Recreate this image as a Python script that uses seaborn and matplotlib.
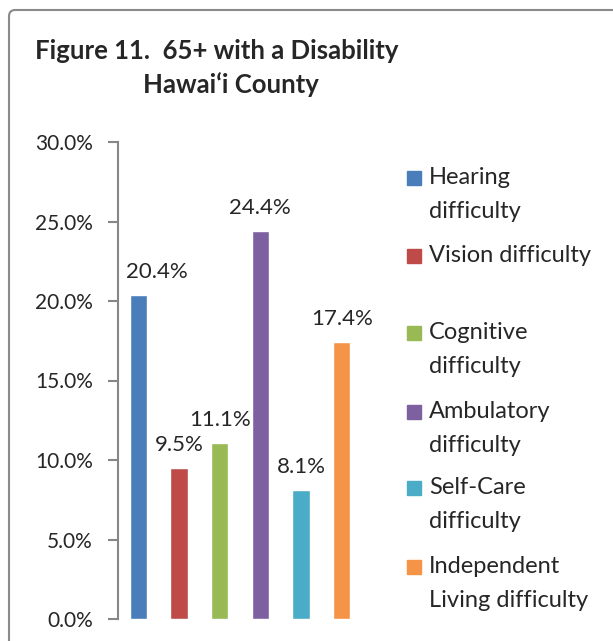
import pandas as pd
import matplotlib.pyplot as plt
import seaborn as sns
from matplotlib.patches import Rectangle, FancyBboxPatch

# Data
categories = ['Hearing\ndifficulty', 'Vision difficulty', 'Cognitive\ndifficulty',
              'Ambulatory\ndifficulty', 'Self-Care\ndifficulty', 'Independent\nLiving difficulty']
values = [20.4, 9.5, 11.1, 24.4, 8.1, 17.4]
colors = ['#4A7EBB', '#BE4B48', '#98B954', '#7D60A0', '#4AACC6', '#F59446']
yticks = [0, 5, 10, 15, 20, 25, 30]

df = pd.DataFrame({'category': categories, 'value': values})

sns.set_style('white')
plt.rcParams['font.family'] = ['Lato', 'DejaVu Sans']

W, H = 613, 641
fig = plt.figure(figsize=(W / 100, H / 100), dpi=100)
ax = fig.add_axes([118 / W, 1 - 619 / H, (362 - 118) / W, (619 - 142) / H])

sns.barplot(data=df, x='category', y='value', hue='category', palette=colors,
            width=0.42, legend=False, ax=ax, saturation=1)

ax.set_ylim(0, 30)
ax.set_xlim(-0.5, 5.5)
ax.set_yticks(yticks)
ax.set_yticklabels([f'{t:.1f}%' for t in yticks], fontsize=15)
ax.set_xticks([])
ax.set_xlabel('')
ax.set_ylabel('')
for s in ['top', 'right', 'bottom']:
    ax.spines[s].set_visible(False)
ax.spines['left'].set_color('#878787')
ax.spines['left'].set_linewidth(1.5)
ax.tick_params(axis='y', direction='out', length=7, width=1.5, color='#878787', pad=11, left=True)

# data labels (first one nudged right to clear the axis)
for i, v in enumerate(values):
    dx = 13 if i == 0 else 0
    ax.annotate(f'{v}%', (i, v), xytext=(dx, 16.5), textcoords='offset points',
                ha='center', va='center', fontsize=16)

# title
fig.text(35 / W, 1 - 51 / H, 'Figure 11.  65+ with a Disability', fontsize=18.5,
         fontweight='bold', va='center', ha='left')
fig.text(143 / W, 1 - 85 / H, 'Hawai\u2018i County', fontsize=18.5,
         fontweight='bold', va='center', ha='left')

# legend
leg_y = [178, 256, 333, 412, 488, 567]
for lab, c, y in zip(categories, colors, leg_y):
    fig.patches.append(Rectangle((407 / W, 1 - (y + 7) / H), 14 / W, 14 / H,
                                 transform=fig.transFigure, color=c))
    fig.text(429 / W, 1 - (y - 11) / H, lab, fontsize=17, va='top', ha='left',
             linespacing=1.75)

# chart border
fig.patches.append(FancyBboxPatch((9 / W, -0.1), 1.2, 1 - 10 / H + 0.1,
                                  boxstyle='round,pad=0,rounding_size=0.01',
                                  transform=fig.transFigure, fill=False,
                                  edgecolor='#8a8a8a', linewidth=1.5))

fig.savefig('out.png', dpi=100)
